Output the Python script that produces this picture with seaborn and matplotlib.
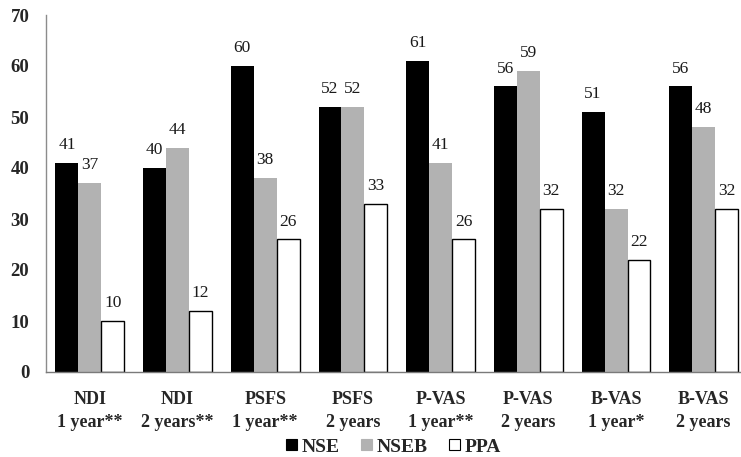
import matplotlib
matplotlib.use("Agg")
import matplotlib.pyplot as plt
import seaborn as sns
import pandas as pd
from matplotlib.patches import Patch

categories = ["NDI\n1 year**", "NDI\n2 years**", "PSFS\n1 year**", "PSFS\n2 years",
              "P-VAS\n1 year**", "P-VAS\n2 years", "B-VAS\n1 year*", "B-VAS\n2 years"]
series = ["NSE", "NSEB", "PPA"]
nse = [41, 40, 60, 52, 61, 56, 51, 56]
nseb = [37, 44, 38, 52, 41, 59, 32, 48]
ppa = [10, 12, 26, 33, 26, 32, 22, 32]
yticks = [0, 10, 20, 30, 40, 50, 60, 70]

colors = ["#000000", "#b2b2b2", "#ffffff"]

rows = []
for name, vals in zip(series, [nse, nseb, ppa]):
    for c, v in zip(categories, vals):
        rows.append({"cat": c, "series": name, "val": v})
df = pd.DataFrame(rows)

sns.set_style("white")
plt.rcParams["font.family"] = ["Liberation Serif", "DejaVu Serif"]

fig = plt.figure(figsize=(7.41, 4.57), dpi=100)
ax = fig.add_axes([46/741, 1-372/457, 695/741, 357/457])

sns.barplot(data=df, x="cat", y="val", hue="series", order=categories,
            hue_order=series, palette=colors, width=0.785, gap=0,
            saturation=1, ax=ax, legend=False)

for cont, name in zip(ax.containers, series):
    for p in cont.patches:
        if name == "PPA":
            p.set_edgecolor("#000000")
            p.set_linewidth(1.0)
        else:
            p.set_edgecolor("none")
    labels = [f"{int(v)}" for v in cont.datavalues]
    for p, lab in zip(cont.patches, labels):
        ax.annotate(lab, (p.get_x() + p.get_width()/2, p.get_height()),
                    xytext=(0, 10), textcoords="offset points",
                    ha="center", va="baseline", fontsize=12.5, color="#1a1a1a")

ax.set_xlim(-0.5, 7.425)
ax.set_ylim(0, 70)
ax.set_yticks(yticks)
ax.set_yticklabels([str(t) for t in yticks], fontsize=13.5, fontweight="bold")
ax.set_xticklabels(categories, fontsize=13, fontweight="bold", linespacing=1.45)
ax.tick_params(axis="both", length=0)
ax.tick_params(axis="y", pad=12)
ax.tick_params(axis="x", pad=14)
ax.set_xlabel("")
ax.set_ylabel("")
for s in ["top", "right"]:
    ax.spines[s].set_visible(False)
ax.spines["left"].set_color("#8c8c8c")
ax.spines["bottom"].set_color("#7a7a7a")
ax.spines["left"].set_linewidth(1.0)
ax.spines["bottom"].set_linewidth(1.0)

handles = [Patch(facecolor=c, edgecolor="#000000" if n == "PPA" else c, linewidth=0.8)
           for c, n in zip(colors, series)]
fig.legend(handles, series, loc="center", bbox_to_anchor=(0.531, 1-447/457),
           ncol=3, frameon=False, prop={"weight": "bold", "size": 14},
           handlelength=0.55, handleheight=0.55, handletextpad=0.25,
           columnspacing=1.1, borderaxespad=0)

fig.savefig("out.png", dpi=100)
